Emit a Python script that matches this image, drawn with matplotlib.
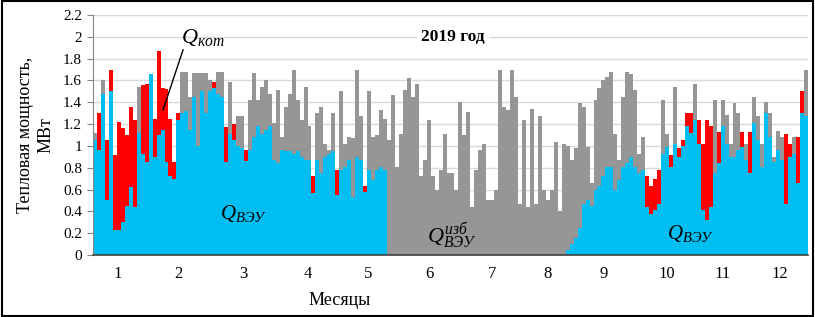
import numpy as np
import matplotlib
matplotlib.use("Agg")
import matplotlib.pyplot as plt
from matplotlib.patches import Rectangle

# ---- data (each bar = ~2 days of the year) ----
q_vey = [1.05,0.96,1.48,0.50,1.50,0.23,0.23,0.30,0.45,0.62,0.44,1.12,0.93,0.85,1.66,0.90,1.10,1.15,0.85,0.72,
         0.70,1.24,1.30,1.32,1.15,1.45,1.00,1.50,1.30,1.50,1.53,1.48,1.45,0.85,1.11,1.05,1.00,0.98,0.86,0.96,
         1.08,1.18,1.11,1.15,1.18,0.87,0.84,0.96,0.95,0.95,0.93,0.95,0.90,0.87,0.87,0.57,0.87,0.75,0.90,0.93,
         0.95,0.55,0.78,0.81,0.87,0.53,0.90,0.87,0.58,0.78,0.69,0.78,0.81,0.78,0.0,0.0,0.0,0.0,0.0,0.0,
         0.0,0.0,0.0,0.0,0.0,0.0,0.0,0.0,0.0,0.0,0.0,0.0,0.0,0.0,0.0,0.0,0.0,0.0,0.0,0.0,
         0.0,0.0,0.0,0.0,0.0,0.0,0.0,0.0,0.0,0.0,0.0,0.0,0.0,0.0,0.0,0.0,0.0,0.0,0.0,0.05,
         0.10,0.16,0.25,0.47,0.50,0.45,0.60,0.63,0.72,0.81,0.81,0.60,0.69,0.81,0.84,0.90,0.81,0.75,0.78,0.44,
         0.38,0.41,0.47,0.93,0.99,0.81,1.02,0.90,1.00,1.18,1.12,1.24,1.02,0.41,0.32,0.44,0.75,0.84,1.18,1.02,
         0.90,0.90,0.96,0.99,0.87,0.75,1.21,1.05,0.81,1.30,1.08,0.85,0.96,0.87,0.47,0.90,0.93,0.66,1.30,1.27]

q_kot = [0,0.34,0,0.55,0.20,0.69,0.99,0.86,0.65,0.74,0.80,0,0.63,0.72,0,0.35,0.77,0.38,0.67,0.53,
         0.15,0.06,0,0,0,0,0,0,0,0,0.06,0,0,0.32,0,0.15,0,0,0.10,0,
         0,0,0,0,0,0,0,0,0,0,0,0,0,0,0,0.15,0,0,0,0,
         0,0.23,0,0,0,0,0,0,0.05,0,0,0,0,0,0,0,0,0,0,0,
         0,0,0,0,0,0,0,0,0,0,0,0,0,0,0,0,0,0,0,0,
         0,0,0,0,0,0,0,0,0,0,0,0,0,0,0,0,0,0,0,0,
         0,0,0,0,0,0,0,0,0,0,0,0,0,0,0,0,0,0,0,0.28,
         0.25,0.29,0.31,0,0,0.11,0,0.08,0.05,0.12,0.18,0,0.22,0.61,0.92,0.74,0,0.29,0,0,
         0,0,0,0.14,0,0.38,0,0,0,0,0,0,0,0,0.64,0.12,0,0.42,0.20,0]

q_izb = [0.07,0,0.12,0,0,0,0,0,0,0,0,0.42,0,0,0,0,0,0,0,0,
         0,0,0.38,0.36,0.30,0.22,0.67,0.17,0.37,0.10,0,0.20,0.23,0,0.48,0,0.27,0.29,0,0.46,
         0.59,0.24,0.43,0.45,0.30,0.34,0.67,0.12,0.41,0.53,0.77,0.47,0.34,0.67,0.31,0,0.43,0.61,0.12,0.03,
         0.35,0,0.72,0.21,0.21,0.54,0.80,0.40,0,0.72,0.39,0.32,0.52,0.47,1.05,1.47,0.81,1.11,1.51,1.62,
         1.45,1.57,0.72,0.87,1.24,0.72,0.60,0.78,1.11,0.75,0.75,0.60,1.40,1.10,1.31,0.44,0.78,0.96,1.02,0.50,
         0.50,0.60,1.70,1.36,1.33,1.70,1.45,0.47,1.24,0.44,1.34,0.47,1.27,0.60,0.50,0.60,1.04,0.40,1.02,0.95,
         0.77,0.82,1.14,0.89,0.49,0.21,0.82,0.90,0.88,0.82,0.87,0.51,0.18,0.64,0.84,0.76,0.70,0.18,0.30,0,
         0,0,0,0.49,0.12,0,0.52,0,0,0,0,0.33,0,0,0,0,0.67,0,0.24,0.26,
         0.12,0.49,0.34,0,0.15,0,0.24,0.22,0.21,0.10,0.22,0.05,0.18,0.21,0,0,0.15,0,0,0.43]

month_labels = [str(m) for m in range(1, 13)]
month_label_days = [12.8, 43.4, 76.6, 109.8, 140.4, 171.5, 203.7, 232.3, 260.9, 293.0, 321.6, 350.7]
yticks = [0, 0.2, 0.4, 0.6, 0.8, 1, 1.2, 1.4, 1.6, 1.8, 2, 2.2]
ytick_labels = ["0", "0.2", "0.4", "0.6", "0.8", "1", "1.2", "1.4", "1.6", "1.8", "2", "2.2"]

# ---- style ----
plt.rcParams['font.family'] = ['Liberation Serif', 'DejaVu Serif']
plt.rcParams['mathtext.fontset'] = 'custom'
plt.rcParams['mathtext.rm'] = 'Liberation Serif'
plt.rcParams['mathtext.it'] = 'Liberation Serif:italic'
plt.rcParams['mathtext.bf'] = 'Liberation Serif:bold'

C_CYAN = '#00BEF2'
C_RED = '#FF0000'
C_GRAY = '#969696'

fig = plt.figure(figsize=(8.15, 3.17), dpi=100)
ax = fig.add_axes([93/815, 1-255/317, 715/815, 240/317])

n = len(q_vey)
width = 365.0 / n
x = (np.arange(n) + 0.5) * width
vey = np.array(q_vey)
ax.bar(x, vey, width=width, color=C_CYAN, linewidth=0, zorder=2)
ax.bar(x, q_kot, width=width, bottom=vey, color=C_RED, linewidth=0, zorder=2)
ax.bar(x, q_izb, width=width, bottom=vey, color=C_GRAY, linewidth=0, zorder=2)

ax.set_xlim(0, 365)
ax.set_ylim(0, 2.2)
ax.set_yticks(yticks)
ax.set_yticklabels(ytick_labels, fontsize=11)
ax.set_xticks(month_label_days)
ax.set_xticklabels(month_labels, fontsize=12)
ax.tick_params(axis='x', length=0, pad=8)
ax.tick_params(axis='y', length=4, color='#868686', pad=4)

ax.grid(axis='y', color='#D9D9D9', linewidth=1.0, zorder=0)
ax.set_axisbelow(True)
for s in ['top', 'right']:
    ax.spines[s].set_visible(False)
ax.spines['left'].set_color('#868686')
ax.spines['bottom'].set_color('#404040')
ax.spines['bottom'].set_linewidth(1.2)
ax.spines['bottom'].set_zorder(3)

ax.set_ylabel("Тепловая мощность,\nМВт", fontsize=13, linespacing=1.3, labelpad=6)
ax.set_xlabel("Месяцы", fontsize=13)
ax.xaxis.set_label_coords((340-93)/715, -0.155)

ax.text((453-93)/715, (255-37)/240, "2019 год", transform=ax.transAxes, ha='center', va='center',
        fontsize=12.5, fontweight='bold', zorder=4,
        bbox=dict(facecolor='white', edgecolor='none', pad=3))

ax.text((181-93)/715, (255-38)/240, r"$Q_{кот}$", transform=ax.transAxes, ha='left', va='center',
        fontsize=16, zorder=4)
ax.annotate("", xy=((162-93)/715, (255-113)/240), xycoords='axes fraction',
            xytext=((184-93)/715, (255-47)/240), textcoords='axes fraction',
            arrowprops=dict(arrowstyle='-', color='black', lw=1.0), zorder=4)

ax.text((243-93)/715, (255-214)/240, r"$Q_{ВЭУ}$", transform=ax.transAxes, ha='center', va='center',
        fontsize=15, zorder=4)
ax.text((452-93)/715, (255-236)/240, r"$Q^{изб}_{ВЭУ}$", transform=ax.transAxes, ha='center', va='center',
        fontsize=16, zorder=4)
ax.text((690-93)/715, (255-234)/240, r"$Q_{ВЭУ}$", transform=ax.transAxes, ha='center', va='center',
        fontsize=15, zorder=4)

fig.patches.append(Rectangle((0.002, 0.003), 0.996, 0.994, transform=fig.transFigure,
                             fill=False, edgecolor='black', linewidth=1.5))

fig.savefig("out.png", dpi=100)
